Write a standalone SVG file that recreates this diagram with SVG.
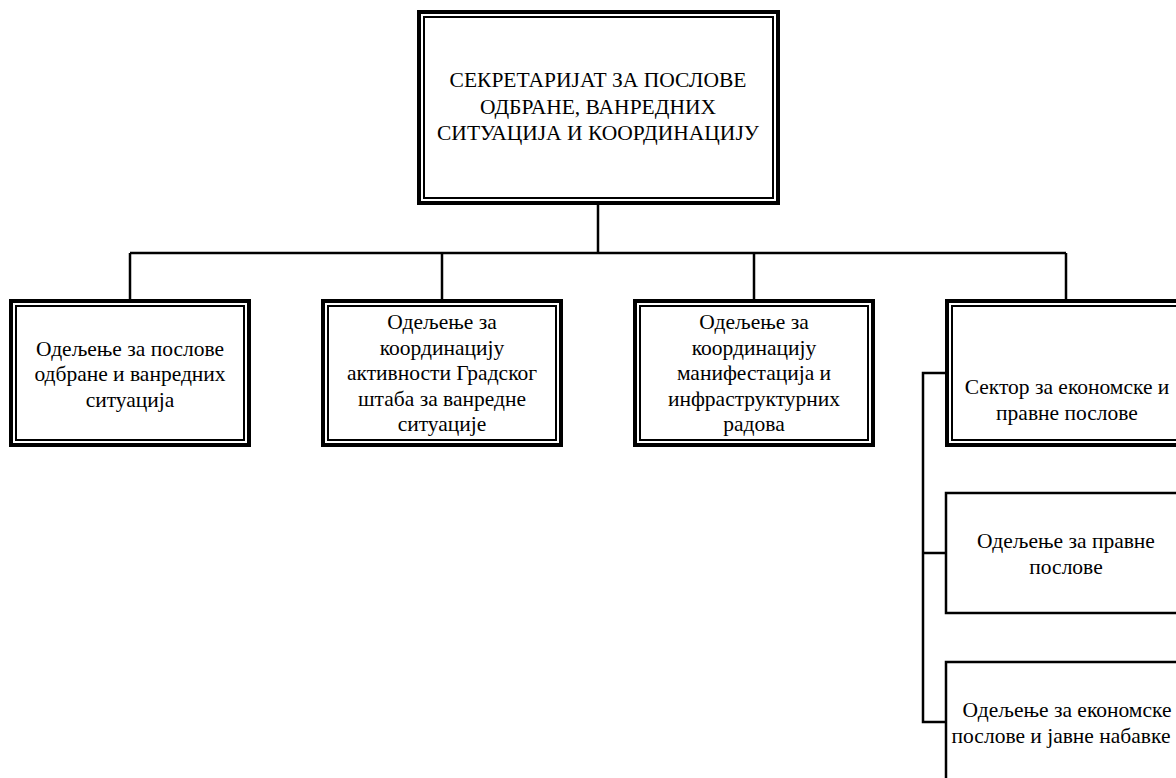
<svg xmlns="http://www.w3.org/2000/svg" width="1176" height="778" viewBox="0 0 1176 778">
<style>
.outer{fill:#fff;stroke:#000;stroke-width:4}
.inner{fill:none;stroke:#000;stroke-width:2}
.single{fill:#fff;stroke:#000;stroke-width:2.5}
.conn{fill:none;stroke:#000;stroke-width:2.5}
text{font-family:'Liberation Serif','Times New Roman',serif;font-size:21.5px;fill:#000;text-anchor:middle}
</style>
<rect width="1176" height="778" fill="#fff"/>
<g id="connectors">
<path class="conn" d="M598 205V253M130 253H1066M130 253V299M442 253V299M754 253V299M1066 253V299"/>
<path class="conn" d="M945 373H923V722H945M923 553H945"/>
</g>
<g id="n-top">
<rect class="outer" x="419" y="12" width="359" height="191"/>
<rect class="inner" x="424" y="17" width="349" height="181"/>
<text x="598" y="87">СЕКРЕТАРИЈАТ ЗА ПОСЛОВЕ</text>
<text x="598" y="114">ОДБРАНЕ, ВАНРЕДНИХ</text>
<text x="598" y="140">СИТУАЦИЈА И КООРДИНАЦИЈУ</text>
</g>
<g id="n-1">
<rect class="outer" x="11" y="301" width="238" height="144"/>
<rect class="inner" x="16" y="306" width="228" height="134"/>
<text x="130" y="356">Одељење за послове</text>
<text x="130" y="381">одбране и ванредних</text>
<text x="130" y="407">ситуација</text>
</g>
<g id="n-2">
<rect class="outer" x="323" y="301" width="238" height="144"/>
<rect class="inner" x="328" y="306" width="228" height="134"/>
<text x="442" y="329">Одељење за</text>
<text x="442" y="355">координацију</text>
<text x="442" y="380">активности Градског</text>
<text x="442" y="406">штаба за ванредне</text>
<text x="442" y="431">ситуације</text>
</g>
<g id="n-3">
<rect class="outer" x="635" y="301" width="238" height="144"/>
<rect class="inner" x="640" y="306" width="228" height="134"/>
<text x="754" y="329">Одељење за</text>
<text x="754" y="355">координацију</text>
<text x="754" y="380">манифестација и</text>
<text x="754" y="406">инфраструктурних</text>
<text x="754" y="431">радова</text>
</g>
<g id="n-4">
<rect class="outer" x="947" y="301" width="238" height="144"/>
<rect class="inner" x="952" y="306" width="228" height="134"/>
<text x="1067" y="394">Сектор за економске и</text>
<text x="1067" y="420">правне послове</text>
</g>
<g id="n-5">
<rect class="single" x="946" y="493" width="240" height="120"/>
<text x="1066" y="548">Одељење за правне</text>
<text x="1066" y="574">послове</text>
</g>
<g id="n-6">
<rect class="single" x="946" y="662" width="240" height="120"/>
<text x="1067" y="717">Одељење за економске</text>
<text x="1061" y="743">послове и јавне набавке</text>
</g>
</svg>
